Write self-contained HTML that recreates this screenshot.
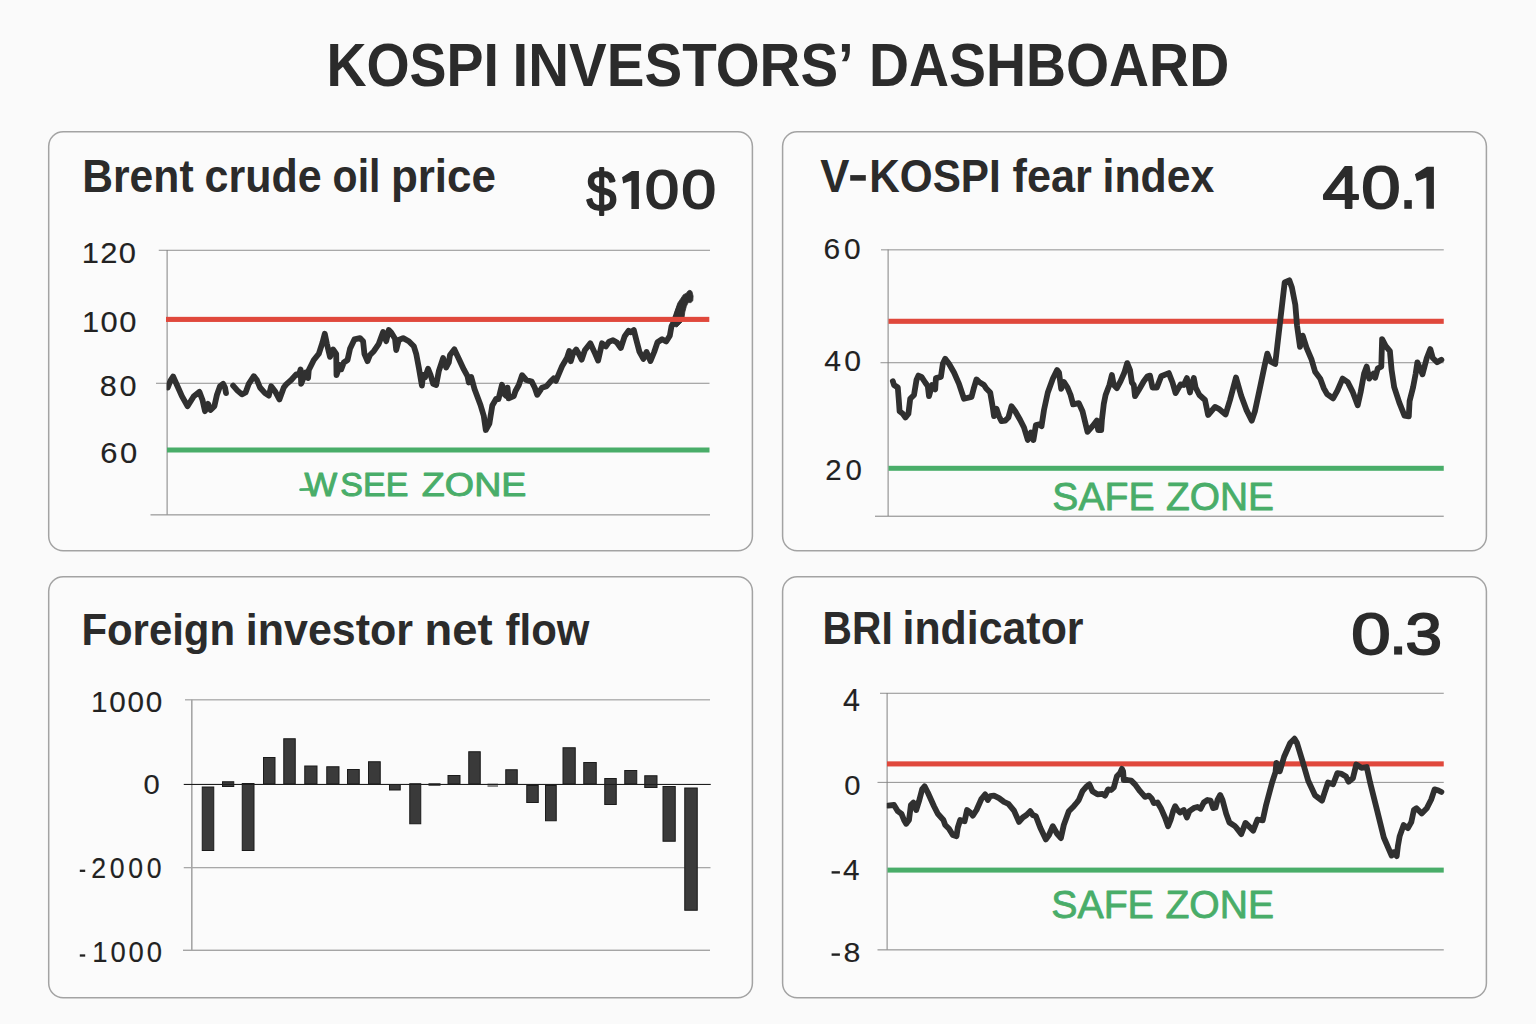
<!DOCTYPE html>
<html lang="en"><head><meta charset="utf-8"><title>KOSPI Investors' Dashboard</title>
<style>
html,body{margin:0;padding:0;background:#fafafa;}
body{width:1536px;height:1024px;overflow:hidden;font-family:"Liberation Sans",sans-serif;}
svg{display:block;position:absolute;left:0;top:0;}
svg text{font-family:"Liberation Sans",sans-serif;white-space:pre;}
</style></head><body>
<svg width="1536" height="1024" viewBox="0 0 1536 1024">
<rect width="1536" height="1024" fill="#fafafa"/>
<rect x="48.7" y="131.7" width="703.7" height="419.1" rx="14.5" ry="14.5" fill="#fbfbfb" stroke="#a3a3a3" stroke-width="1.5"/>
<rect x="782.6" y="131.7" width="703.8" height="419.1" rx="14.5" ry="14.5" fill="#fbfbfb" stroke="#a3a3a3" stroke-width="1.5"/>
<rect x="48.7" y="576.8" width="703.7" height="421.0" rx="14.5" ry="14.5" fill="#fbfbfb" stroke="#a3a3a3" stroke-width="1.5"/>
<rect x="782.6" y="576.8" width="703.8" height="421.0" rx="14.5" ry="14.5" fill="#fbfbfb" stroke="#a3a3a3" stroke-width="1.5"/>
<text transform="matrix(0.27735 0 0 0.30145 326.39 85.90)" font-size="200" font-weight="bold" fill="#2b2b2b">KOSPI</text>
<text transform="matrix(0.28260 0 0 0.30145 512.58 85.90)" font-size="200" font-weight="bold" fill="#2b2b2b">INVESTORS’</text>
<text transform="matrix(0.27717 0 0 0.30145 868.90 85.90)" font-size="200" font-weight="bold" fill="#2b2b2b">DASHBOARD</text>
<text transform="matrix(0.21321 0 0 0.23007 82.23 191.75)" font-size="200" font-weight="bold" fill="#2b2b2b">Brent</text>
<text transform="matrix(0.21493 0 0 0.23007 204.58 191.75)" font-size="200" font-weight="bold" fill="#2b2b2b">crude</text>
<text transform="matrix(0.20498 0 0 0.23007 332.61 191.75)" font-size="200" font-weight="bold" fill="#2b2b2b">oil</text>
<text transform="matrix(0.21998 0 0 0.23007 390.89 191.75)" font-size="200" font-weight="bold" fill="#2b2b2b">price</text>
<text transform="matrix(0.26792 0 0 0.28827 586.46 211.06)" font-size="200" font-weight="normal" fill="#2b2b2b" stroke="#2b2b2b" stroke-width="7.19" stroke-linejoin="round">$</text>
<text transform="matrix(0.30526 0 0 0.26761 644.96 208.46)" font-size="200" font-weight="normal" fill="#2b2b2b" stroke="#2b2b2b" stroke-width="6.98" stroke-linejoin="round">0</text>
<text transform="matrix(0.30947 0 0 0.26761 681.52 208.46)" font-size="200" font-weight="normal" fill="#2b2b2b" stroke="#2b2b2b" stroke-width="6.93" stroke-linejoin="round">0</text>
<path d="M631.90 170.90 L638.90 170.90 L638.90 209.10 L631.40 209.10 L631.40 180.50 L623.20 183.50 L622.10 177.20Z" fill="#2b2b2b"/>
<text transform="matrix(0.21885 0 0 0.23080 820.31 191.75)" font-size="200" font-weight="bold" fill="#2b2b2b">V</text>
<text transform="matrix(0.21124 0 0 0.23080 869.35 191.75)" font-size="200" font-weight="bold" fill="#2b2b2b">KOSPI</text>
<text transform="matrix(0.21607 0 0 0.23080 1012.60 191.75)" font-size="200" font-weight="bold" fill="#2b2b2b">fear</text>
<text transform="matrix(0.21393 0 0 0.23080 1102.50 191.75)" font-size="200" font-weight="bold" fill="#2b2b2b">index</text>
<rect x="850.2" y="175.1" width="15.6" height="5.6" fill="#2b2b2b"/>
<text transform="matrix(0.33600 0 0 0.29275 1322.42 207.80)" font-size="200" font-weight="normal" fill="#2b2b2b" stroke="#2b2b2b" stroke-width="6.36" stroke-linejoin="round">4</text>
<text transform="matrix(0.35368 0 0 0.29437 1361.27 207.91)" font-size="200" font-weight="normal" fill="#2b2b2b" stroke="#2b2b2b" stroke-width="6.17" stroke-linejoin="round">0</text>
<rect x="1404.30" y="200.10" width="7.50" height="8.70" fill="#2b2b2b"/>
<path d="M1426.90 166.70 L1433.90 166.70 L1433.90 208.80 L1426.40 208.80 L1426.40 177.40 L1416.80 181.20 L1414.90 174.20Z" fill="#2b2b2b"/>
<text transform="matrix(0.20960 0 0 0.22609 81.38 644.80)" font-size="200" font-weight="bold" fill="#2b2b2b">Foreign</text>
<text transform="matrix(0.21518 0 0 0.22609 245.74 644.80)" font-size="200" font-weight="bold" fill="#2b2b2b">investor</text>
<text transform="matrix(0.22711 0 0 0.22609 424.55 644.80)" font-size="200" font-weight="bold" fill="#2b2b2b">net</text>
<text transform="matrix(0.20970 0 0 0.22609 505.62 644.80)" font-size="200" font-weight="bold" fill="#2b2b2b">flow</text>
<text transform="matrix(0.20362 0 0 0.22790 822.60 643.75)" font-size="200" font-weight="bold" fill="#2b2b2b">BRI</text>
<text transform="matrix(0.21437 0 0 0.22790 902.50 643.75)" font-size="200" font-weight="bold" fill="#2b2b2b">indicator</text>
<text transform="matrix(0.35421 0 0 0.29085 1351.27 653.72)" font-size="200" font-weight="normal" fill="#2b2b2b" stroke="#2b2b2b" stroke-width="6.20" stroke-linejoin="round">0</text>
<rect x="1394.10" y="646.40" width="8.00" height="8.20" fill="#2b2b2b"/>
<text transform="matrix(0.32766 0 0 0.29085 1405.58 653.72)" font-size="200" font-weight="normal" fill="#2b2b2b" stroke="#2b2b2b" stroke-width="6.47" stroke-linejoin="round">3</text>
<rect x="158.75" y="249.78" width="551.25" height="0.95" fill="#8a8a8a"/>
<rect x="156.00" y="382.77" width="553.50" height="0.95" fill="#8a8a8a"/>
<rect x="150.50" y="514.25" width="559.50" height="1.20" fill="#969696"/>
<rect x="166.60" y="250.00" width="1.00" height="264.60" fill="#828282"/>
<rect x="167.00" y="447.50" width="542.50" height="5.00" fill="#49ad69"/>
<clipPath id="k1"><rect x="166.6" y="240" width="560" height="280"/></clipPath>
<path d="M167.8 387.5 L170.5 380.5 L173.1 376.5 L177.5 386.2 L181.9 396.2 L187.5 406.2 L193.8 396.2 L199.4 391.9 L202.5 400.0 L205.0 411.2 L208.1 403.8 L210.6 410.0 L214.4 406.2 L216.9 395.0 L220.0 386.2 L223.1 383.8 L225.0 387.5 L226.0 393.1" fill="none" stroke="#303030" stroke-width="5.8" stroke-linejoin="round" stroke-linecap="round" clip-path="url(#k1)"/>
<path d="M233.1 385.6 L237.5 390.6 L241.9 394.4 L245.6 392.5 L248.8 383.8 L253.8 376.2 L256.9 380.0 L260.0 387.5 L265.0 393.1 L268.8 395.6 L271.2 386.2 L275.0 391.2 L279.4 399.4 L283.8 387.5 L286.2 384.4 L291.2 380.0 L296.2 374.4 L298.8 375.0 L300.6 369.4 L301.2 383.8 L305.6 372.5 L308.1 378.1 L308.8 370.0 L313.8 360.0 L318.8 353.8 L322.5 342.5 L324.8 333.8 L326.9 343.8 L330.0 356.9 L333.1 349.4 L336.2 353.8 L336.5 375.0 L340.0 365.0 L341.2 369.4 L343.8 362.5 L347.5 360.0 L350.0 348.8 L354.4 339.4 L360.0 338.1 L363.1 341.2 L364.4 353.8 L367.5 361.2 L370.0 355.0 L373.8 351.2 L378.8 343.8 L383.1 331.9 L386.2 341.2 L388.8 330.0 L391.2 332.5 L395.0 338.8 L396.2 350.0 L398.8 340.0 L403.1 338.1 L408.8 341.2 L413.8 346.2 L416.2 353.8 L418.8 367.5 L421.9 385.6 L423.1 375.0 L425.0 377.5 L428.1 368.8 L430.6 375.0 L433.1 383.8 L436.2 385.0 L438.8 371.2 L443.1 358.1 L446.2 367.5 L448.8 362.5 L450.0 355.0 L454.4 349.4 L458.8 358.8 L463.8 369.4 L467.5 376.2 L468.8 382.5 L471.2 376.9 L474.5 389.0 L480.5 405.0 L483.8 416.0 L485.8 430.0 L489.4 423.5 L492.3 405.5 L496.2 398.8 L498.5 399.0 L502.0 384.8 L504.2 394.0 L506.2 396.0 L507.5 387.6 L508.6 398.4 L513.8 396.0 L515.5 391.0 L518.8 385.0 L522.1 375.2 L526.2 380.0 L531.7 381.6 L534.8 387.8 L537.2 394.8 L541.9 387.8 L546.6 386.2 L550.5 381.6 L553.6 378.4 L555.9 380.8 L562.2 365.9 L566.9 358.1 L569.2 351.1 L570.8 361.2 L573.1 353.4 L576.2 349.5 L579.4 355.0 L581.7 359.7 L584.8 350.3 L590.3 343.3 L595.0 353.4 L598.1 360.5 L602.0 343.3 L605.9 346.4 L609.1 341.7 L613.0 340.2 L616.9 342.5 L620.8 348.0 L624.7 336.2 L628.6 330.8 L630.9 332.3 L633.8 330.0 L636.4 340.2 L639.5 351.9 L643.4 358.9 L646.5 352.0 L650.5 361.0 L654.2 352.0 L657.5 342.2 L662.1 339.2 L666.2 341.5 L669.8 335.7 L671.5 326.3 L674.2 321.0 L677.0 313.0 L680.0 306.0" fill="none" stroke="#303030" stroke-width="5.8" stroke-linejoin="round" stroke-linecap="round"/>
<path d="M671.6 326.0 L674.1 317.2 L675.5 310.1 L677.8 303.1 L680.6 298.9 L683.4 294.7 L686.3 293.3 L688.1 290.9 L690.0 290.2 L691.9 291.4 L693.1 296.1 L692.8 300.8 L690.9 302.6 L688.1 302.6 L686.3 306.4 L684.8 312.0 L684.1 317.2 L682.0 322.0 L677.0 327.0Z" fill="#303030" stroke="#303030" stroke-width="0.8" stroke-linejoin="round"/>
<rect x="166.00" y="316.85" width="543.30" height="5.10" fill="#e0483c"/>
<text transform="matrix(0.17326 0 0 0.16884 304.53 495.80)" font-size="200" font-weight="normal" fill="#49ad69" stroke="#49ad69" stroke-width="5.85" stroke-linejoin="round">W</text>
<text transform="matrix(0.16997 0 0 0.16884 340.37 495.80)" font-size="200" font-weight="normal" fill="#49ad69" stroke="#49ad69" stroke-width="5.90" stroke-linejoin="round">SEE</text>
<text transform="matrix(0.18817 0 0 0.16884 421.87 495.80)" font-size="200" font-weight="normal" fill="#49ad69" stroke="#49ad69" stroke-width="5.60" stroke-linejoin="round">ZONE</text>
<path d="M300.6 489.6 L310 489.3" stroke="#49ad69" stroke-width="2.8" stroke-linecap="round" fill="none"/>
<rect x="881.00" y="249.38" width="562.75" height="0.95" fill="#8a8a8a"/>
<rect x="880.50" y="362.27" width="563.25" height="0.95" fill="#8a8a8a"/>
<rect x="875.00" y="515.65" width="568.75" height="1.20" fill="#969696"/>
<rect x="887.60" y="249.60" width="1.00" height="266.40" fill="#828282"/>
<rect x="888.50" y="465.80" width="555.25" height="5.00" fill="#49ad69"/>
<rect x="888.50" y="318.75" width="555.25" height="5.10" fill="#e0483c"/>
<path d="M892.8 381.2 L894.0 385.0 L897.8 387.5 L898.8 400.0 L899.6 411.2 L902.8 413.8 L905.5 417.5 L908.4 413.8 L910.2 398.8 L914.0 395.0 L916.5 380.0 L918.4 375.6 L921.5 376.9 L925.2 382.5 L927.8 386.2 L929.0 396.2 L932.1 385.0 L935.2 389.4 L935.9 378.1 L940.9 376.9 L942.8 363.8 L945.2 358.8 L949.0 363.8 L954.0 372.5 L959.0 383.8 L964.0 398.8 L971.5 396.9 L974.0 387.5 L976.5 379.4 L979.0 381.9 L984.0 385.0 L986.5 388.8 L990.2 392.5 L992.8 407.5 L994.0 416.2 L996.5 408.8 L999.0 416.2 L1001.5 421.2 L1005.2 420.6 L1008.4 417.5 L1011.5 406.2 L1015.2 411.2 L1020.2 420.0 L1024.0 427.5 L1027.8 440.0 L1030.9 432.5 L1033.4 440.0 L1035.9 425.0 L1039.0 424.4 L1041.5 426.2 L1044.0 410.0 L1047.8 392.5 L1052.8 378.8 L1057.1 370.0 L1059.0 372.5 L1061.2 388.8 L1063.8 381.9 L1067.5 387.5 L1070.6 395.0 L1073.1 404.4 L1078.8 403.1 L1082.5 411.2 L1087.5 431.9 L1092.5 426.2 L1096.9 420.6 L1098.1 430.0 L1101.2 430.0 L1101.9 420.0 L1103.8 403.8 L1105.6 395.0 L1109.4 385.0 L1111.9 375.0 L1113.8 385.0 L1116.9 388.1 L1120.6 381.2 L1124.4 372.5 L1127.2 363.1 L1130.0 370.0 L1131.9 382.5 L1133.8 385.0 L1135.0 396.2 L1138.8 390.0 L1143.8 381.2 L1147.5 376.2 L1150.0 375.6 L1152.5 387.5 L1156.9 387.5 L1161.2 376.2 L1168.8 373.1 L1172.5 382.5 L1175.6 393.1 L1180.6 384.4 L1183.8 385.0 L1186.9 378.1 L1190.0 392.5 L1191.2 386.2 L1193.8 378.1 L1195.6 387.5 L1199.4 395.0 L1205.0 400.0 L1208.1 415.0 L1215.0 406.9 L1218.8 408.8 L1225.6 414.4 L1230.0 400.0 L1236.0 377.5 L1241.2 395.8 L1246.3 409.6 L1251.8 420.7 L1254.9 411.3 L1260.1 387.2 L1264.4 366.6 L1267.3 353.7 L1270.4 361.4 L1275.2 364.0 L1277.3 345.9 L1280.7 316.7 L1284.7 282.4 L1289.3 280.3 L1291.9 287.5 L1295.3 304.7 L1297.0 325.3 L1300.0 346.8 L1302.7 335.6 L1306.5 347.7 L1311.6 359.7 L1315.1 371.7 L1320.2 378.6 L1323.7 388.1 L1327.1 394.1 L1333.1 398.4 L1337.4 390.6 L1342.6 378.6 L1347.7 382.1 L1352.9 392.4 L1357.7 405.3 L1360.6 392.4 L1364.1 373.5 L1366.7 366.6 L1369.2 378.6 L1373.5 373.5 L1375.2 377.8 L1377.8 368.3 L1381.3 366.6 L1382.1 339.1 L1385.6 345.9 L1389.9 351.1 L1391.6 370.0 L1394.2 387.2 L1399.3 402.7 L1404.5 415.6 L1408.8 416.4 L1409.6 401.0 L1413.1 387.2 L1415.7 373.5 L1417.4 362.3 L1422.5 374.3 L1426.8 358.0 L1430.3 349.1 L1432.8 358.0 L1437.1 362.3 L1441.4 359.7" fill="none" stroke="#303030" stroke-width="5.8" stroke-linejoin="round" stroke-linecap="round"/>
<text transform="matrix(0.19564 0 0 0.19420 1052.34 510.20)" font-size="200" font-weight="normal" fill="#49ad69" stroke="#49ad69" stroke-width="4.10" stroke-linejoin="round">SAFE</text>
<text transform="matrix(0.19445 0 0 0.19420 1165.93 510.20)" font-size="200" font-weight="normal" fill="#49ad69" stroke="#49ad69" stroke-width="4.12" stroke-linejoin="round">ZONE</text>
<rect x="185.00" y="699.38" width="525.00" height="0.95" fill="#8a8a8a"/>
<rect x="183.75" y="867.27" width="526.75" height="0.95" fill="#8a8a8a"/>
<rect x="183.00" y="949.65" width="527.00" height="1.20" fill="#969696"/>
<rect x="191.00" y="699.60" width="1.60" height="250.40" fill="#a6a6a6"/>
<rect x="202.25" y="787.00" width="11.50" height="63.50" fill="#3a3a3a" stroke="#1b1b1b" stroke-width="1"/>
<rect x="222.50" y="781.75" width="11.25" height="4.75" fill="#3a3a3a" stroke="#1b1b1b" stroke-width="1"/>
<rect x="242.25" y="783.50" width="11.75" height="67.00" fill="#3a3a3a" stroke="#1b1b1b" stroke-width="1"/>
<rect x="263.50" y="757.50" width="11.50" height="26.50" fill="#3a3a3a" stroke="#1b1b1b" stroke-width="1"/>
<rect x="283.75" y="738.75" width="11.50" height="45.25" fill="#3a3a3a" stroke="#1b1b1b" stroke-width="1"/>
<rect x="304.75" y="766.00" width="12.25" height="18.00" fill="#3a3a3a" stroke="#1b1b1b" stroke-width="1"/>
<rect x="326.75" y="766.75" width="12.25" height="17.25" fill="#3a3a3a" stroke="#1b1b1b" stroke-width="1"/>
<rect x="347.50" y="769.50" width="11.75" height="14.50" fill="#3a3a3a" stroke="#1b1b1b" stroke-width="1"/>
<rect x="368.50" y="761.75" width="11.75" height="22.25" fill="#3a3a3a" stroke="#1b1b1b" stroke-width="1"/>
<rect x="389.50" y="784.50" width="10.75" height="5.50" fill="#3a3a3a" stroke="#1b1b1b" stroke-width="1"/>
<rect x="409.75" y="783.75" width="11.00" height="40.00" fill="#3a3a3a" stroke="#1b1b1b" stroke-width="1"/>
<rect x="428.5" y="783.25" width="12.00" height="2.50" fill="#262626"/>
<rect x="448.00" y="775.50" width="12.00" height="8.50" fill="#3a3a3a" stroke="#1b1b1b" stroke-width="1"/>
<rect x="468.75" y="751.75" width="11.50" height="32.25" fill="#3a3a3a" stroke="#1b1b1b" stroke-width="1"/>
<rect x="505.75" y="769.75" width="11.50" height="14.25" fill="#3a3a3a" stroke="#1b1b1b" stroke-width="1"/>
<rect x="526.75" y="785.50" width="11.50" height="17.00" fill="#3a3a3a" stroke="#1b1b1b" stroke-width="1"/>
<rect x="545.50" y="785.50" width="10.75" height="35.25" fill="#3a3a3a" stroke="#1b1b1b" stroke-width="1"/>
<rect x="563.00" y="747.75" width="12.25" height="36.25" fill="#3a3a3a" stroke="#1b1b1b" stroke-width="1"/>
<rect x="583.75" y="762.50" width="12.50" height="21.50" fill="#3a3a3a" stroke="#1b1b1b" stroke-width="1"/>
<rect x="604.75" y="778.50" width="11.50" height="26.00" fill="#3a3a3a" stroke="#1b1b1b" stroke-width="1"/>
<rect x="624.75" y="770.50" width="12.00" height="13.50" fill="#3a3a3a" stroke="#1b1b1b" stroke-width="1"/>
<rect x="644.75" y="775.75" width="12.25" height="11.75" fill="#3a3a3a" stroke="#1b1b1b" stroke-width="1"/>
<rect x="663.00" y="786.50" width="12.25" height="54.75" fill="#3a3a3a" stroke="#1b1b1b" stroke-width="1"/>
<rect x="684.75" y="788.00" width="12.50" height="122.25" fill="#3a3a3a" stroke="#1b1b1b" stroke-width="1"/>
<rect x="487.5" y="783.5" width="10.50" height="3.50" fill="#8a8a8a"/>
<rect x="183.75" y="783.90" width="527.00" height="1.10" fill="#1e1e1e"/>
<rect x="880.00" y="692.77" width="563.75" height="0.95" fill="#8a8a8a"/>
<rect x="877.50" y="781.88" width="566.25" height="0.95" fill="#8a8a8a"/>
<rect x="877.50" y="949.25" width="566.25" height="1.20" fill="#969696"/>
<rect x="886.60" y="693.00" width="1.00" height="256.60" fill="#828282"/>
<rect x="887.50" y="867.60" width="556.25" height="5.00" fill="#49ad69"/>
<rect x="887.00" y="761.35" width="556.75" height="5.10" fill="#e0483c"/>
<clipPath id="k4"><rect x="886.8" y="690" width="570" height="262"/></clipPath>
<path d="M887.8 805.6 L894.0 805.0 L897.8 811.2 L901.5 813.8 L904.0 820.0 L906.2 823.8 L909.0 820.0 L910.9 805.0 L913.4 802.5 L916.2 810.0 L919.0 801.2 L922.1 789.4 L924.6 786.2 L927.8 792.5 L934.0 806.2 L937.8 813.8 L943.4 820.0 L945.2 825.0 L949.0 828.8 L952.8 835.0 L956.5 836.2 L957.8 827.5 L960.2 820.0 L964.6 821.2 L967.1 810.0 L970.2 812.5 L972.8 815.6 L976.5 810.0 L981.5 798.8 L985.2 794.4 L987.8 800.0 L990.2 796.2 L994.0 795.6 L999.0 798.1 L1004.0 801.9 L1008.4 803.8 L1014.0 810.6 L1019.0 821.9 L1022.8 817.5 L1026.5 815.0 L1030.2 811.2 L1032.8 815.0 L1035.9 816.2 L1040.2 827.5 L1045.9 839.4 L1049.0 835.0 L1052.8 826.2 L1057.1 833.8 L1060.9 838.1 L1063.8 825.0 L1068.8 811.2 L1073.8 806.2 L1076.9 802.5 L1078.8 800.0 L1082.5 791.2 L1086.2 786.9 L1089.4 784.4 L1092.5 791.2 L1097.5 794.4 L1102.5 793.8 L1105.0 795.6 L1108.1 789.4 L1111.2 790.0 L1113.8 787.5 L1116.9 776.2 L1120.0 773.1 L1121.9 768.8 L1123.1 771.2 L1123.8 780.0 L1127.5 780.0 L1131.2 780.6 L1135.0 784.4 L1140.0 791.2 L1145.0 796.9 L1148.8 795.6 L1151.9 798.8 L1153.8 803.1 L1157.5 802.5 L1161.2 808.8 L1165.0 817.5 L1168.1 826.2 L1170.6 820.0 L1173.1 811.2 L1175.2 806.2 L1177.5 810.0 L1180.0 812.5 L1183.8 810.0 L1186.9 817.5 L1189.4 811.2 L1193.8 808.1 L1197.5 806.9 L1200.6 808.8 L1203.8 802.5 L1207.5 800.0 L1210.6 800.6 L1213.1 808.1 L1215.6 807.5 L1217.5 800.0 L1220.2 795.0 L1222.5 800.0 L1226.2 813.8 L1229.4 822.5 L1235.0 826.2 L1236.0 827.2 L1241.2 834.1 L1245.5 822.9 L1253.2 830.6 L1257.5 819.5 L1262.7 820.3 L1266.1 804.9 L1272.1 782.5 L1275.5 772.2 L1276.4 762.8 L1279.8 771.3 L1284.1 756.7 L1290.2 743.0 L1294.5 738.7 L1297.0 743.0 L1302.2 760.2 L1308.2 780.8 L1315.1 795.4 L1322.0 800.6 L1324.5 792.8 L1328.0 782.5 L1333.1 784.2 L1337.4 773.1 L1341.7 773.9 L1346.0 776.5 L1348.6 781.7 L1352.9 778.2 L1356.3 764.5 L1361.5 767.9 L1366.7 767.0 L1370.1 782.5 L1377.0 810.0 L1383.8 837.5 L1391.6 855.6 L1393.8 852.3 L1396.7 856.1 L1397.9 846.1 L1399.7 836.1 L1403.6 825.1 L1407.9 828.1 L1411.3 822.1 L1413.9 810.0 L1416.5 808.3 L1421.7 813.5 L1426.8 808.3 L1431.1 799.7 L1434.6 789.4 L1438.0 790.2 L1441.4 792.0" fill="none" stroke="#303030" stroke-width="5.8" stroke-linejoin="round" stroke-linecap="round" clip-path="url(#k4)"/>
<text transform="matrix(0.19644 0 0 0.19348 1051.23 918.35)" font-size="200" font-weight="normal" fill="#49ad69" stroke="#49ad69" stroke-width="4.10" stroke-linejoin="round">SAFE</text>
<text transform="matrix(0.19538 0 0 0.19348 1165.43 918.35)" font-size="200" font-weight="normal" fill="#49ad69" stroke="#49ad69" stroke-width="4.11" stroke-linejoin="round">ZONE</text>
<text transform="matrix(0.15447 0 0 0.14754 81.86 263.33)" font-size="200" font-weight="normal" fill="#222222" stroke="#222222" stroke-width="0.99" stroke-linejoin="round" letter-spacing="8.30">120</text>
<text transform="matrix(0.15447 0 0 0.14754 82.06 331.93)" font-size="200" font-weight="normal" fill="#222222" stroke="#222222" stroke-width="0.99" stroke-linejoin="round" letter-spacing="8.95">100</text>
<text transform="matrix(0.15307 0 0 0.14718 99.70 395.63)" font-size="200" font-weight="normal" fill="#222222" stroke="#222222" stroke-width="1.00" stroke-linejoin="round" letter-spacing="18.10">80</text>
<text transform="matrix(0.15490 0 0 0.14894 100.23 462.73)" font-size="200" font-weight="normal" fill="#222222" stroke="#222222" stroke-width="0.99" stroke-linejoin="round" letter-spacing="15.82">60</text>
<text transform="matrix(0.14979 0 0 0.14542 823.58 259.33)" font-size="200" font-weight="normal" fill="#222222" stroke="#222222" stroke-width="1.02" stroke-linejoin="round" letter-spacing="24.66">60</text>
<text transform="matrix(0.15070 0 0 0.15070 824.32 371.07)" font-size="200" font-weight="normal" fill="#222222" stroke="#222222" stroke-width="1.00" stroke-linejoin="round" letter-spacing="21.58">40</text>
<text transform="matrix(0.14721 0 0 0.15176 825.30 480.22)" font-size="200" font-weight="normal" fill="#222222" stroke="#222222" stroke-width="1.00" stroke-linejoin="round" letter-spacing="26.63">20</text>
<text transform="matrix(0.14830 0 0 0.14683 91.05 712.13)" font-size="200" font-weight="normal" fill="#222222" stroke="#222222" stroke-width="1.02" stroke-linejoin="round" letter-spacing="11.62">1000</text>
<text transform="matrix(0.14579 0 0 0.13979 143.51 793.65)" font-size="200" font-weight="normal" fill="#222222" stroke="#222222" stroke-width="1.05" stroke-linejoin="round">0</text>
<text transform="matrix(0.13328 0 0 0.14331 91.34 878.44)" font-size="200" font-weight="normal" fill="#222222" stroke="#222222" stroke-width="1.08" stroke-linejoin="round" letter-spacing="27.36">2000</text>
<text transform="matrix(0.13721 0 0 0.14754 92.32 962.43)" font-size="200" font-weight="normal" fill="#222222" stroke="#222222" stroke-width="1.05" stroke-linejoin="round" letter-spacing="20.77">1000</text>
<rect x="79.80" y="869.65" width="5.40" height="2.30" fill="#222222"/>
<rect x="79.80" y="954.35" width="5.40" height="2.30" fill="#222222"/>
<text transform="matrix(0.15250 0 0 0.15399 843.01 710.73)" font-size="200" font-weight="normal" fill="#222222" stroke="#222222" stroke-width="0.98" stroke-linejoin="round">4</text>
<text transform="matrix(0.14579 0 0 0.13768 844.31 795.15)" font-size="200" font-weight="normal" fill="#222222" stroke="#222222" stroke-width="1.06" stroke-linejoin="round">0</text>
<text transform="matrix(0.14850 0 0 0.14674 843.03 879.92)" font-size="200" font-weight="normal" fill="#222222" stroke="#222222" stroke-width="1.02" stroke-linejoin="round">4</text>
<text transform="matrix(0.15160 0 0 0.14049 843.41 961.94)" font-size="200" font-weight="normal" fill="#222222" stroke="#222222" stroke-width="1.03" stroke-linejoin="round">8</text>
<rect x="831.60" y="871.20" width="8.30" height="2.40" fill="#222222"/>
<rect x="831.60" y="953.40" width="8.30" height="2.40" fill="#222222"/>
</svg>
</body></html>
